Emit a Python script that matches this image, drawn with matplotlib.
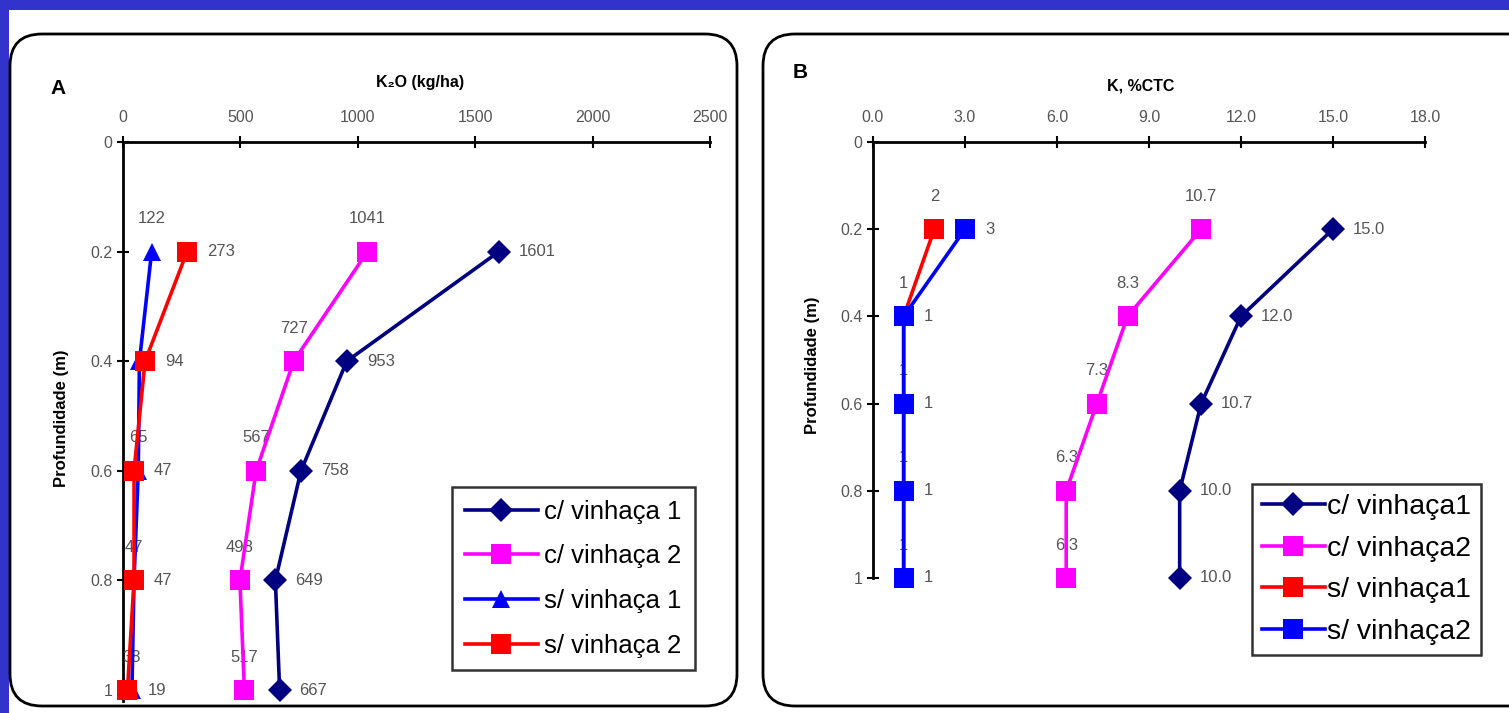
import matplotlib
matplotlib.use("Agg")
import matplotlib.pyplot as plt
from matplotlib.patches import FancyBboxPatch, Rectangle
from matplotlib.transforms import IdentityTransform

plt.rcParams['font.family'] = ['Liberation Sans', 'DejaVu Sans']

# depth (m)
depth = [0.2, 0.4, 0.6, 0.8, 1.0]
depth_ticks = [0, 0.2, 0.4, 0.6, 0.8, 1]
depth_ticklabels = ['0', '0.2', '0.4', '0.6', '0.8', '1']

# panel A: K2O (kg/ha)
a_com1 = [1601, 953, 758, 649, 667]
a_com2 = [1041, 727, 567, 498, 517]
a_sem1 = [122, 70, 65, 47, 38]
a_sem2 = [273, 94, 47, 47, 19]
a_sem1_labels = ['122', '', '65', '47', '38']
a_xticks = [0, 500, 1000, 1500, 2000, 2500]

# panel B: K, %CTC
b_com1 = [15.0, 12.0, 10.7, 10.0, 10.0]
b_com2 = [10.7, 8.3, 7.3, 6.3, 6.3]
b_sem1 = [2, 1, 1, 1, 1]
b_sem2 = [3, 1, 1, 1, 1]
b_xticks = [0, 3, 6, 9, 12, 15, 18]

NAVY = '#000080'
MAG = '#FF00FF'
BLUE = '#0000FF'
RED = '#FF0000'
GRAY = '#555555'

W, H = 1509, 713
fig = plt.figure(figsize=(W / 100, H / 100), dpi=100)
fig.patch.set_facecolor('#3232CC')

# white page and the two rounded panels (pixel coords, origin bottom-left)
fig.patches.append(Rectangle((9, 0), W, H - 10, transform=IdentityTransform(),
                             facecolor='white', edgecolor='none', zorder=0))
for x0, x1 in [(10, 737), (763, 1540)]:
    fig.patches.append(FancyBboxPatch((x0, 7), x1 - x0, 672,
                                      boxstyle='round,pad=0,rounding_size=32',
                                      transform=IdentityTransform(),
                                      facecolor='white', edgecolor='black',
                                      linewidth=2, zorder=1))


def px(x, y):
    return x / W, 1 - y / H


def setup(ax, xticks, xticklabels, xmax, ymax):
    ax.set_xlim(0, xmax)
    ax.set_ylim(ymax, 0)
    ax.xaxis.tick_top()
    ax.set_xticks(xticks)
    ax.set_xticklabels(xticklabels)
    ax.set_yticks(depth_ticks)
    ax.set_yticklabels(depth_ticklabels)
    for s in ['right', 'bottom']:
        ax.spines[s].set_visible(False)
    for s in ['top', 'left']:
        ax.spines[s].set_linewidth(2)
    ax.tick_params(direction='inout', length=9, width=1.5, labelsize=11.5,
                   labelcolor=GRAY)
    ax.tick_params(axis='x', pad=8)
    ax.tick_params(axis='y', pad=3)
    ax.patch.set_alpha(0)


def label(ax, xs, ys, texts, where, color=GRAY, z=3):
    for x, y, t in zip(xs, ys, texts):
        if not t:
            continue
        if where == 'right':
            ax.annotate(t, (x, y), xytext=(20, 0), textcoords='offset pixels',
                        ha='left', va='center', fontsize=12, color=color, zorder=z)
        else:
            ax.annotate(t, (x, y), xytext=(0, 33), textcoords='offset pixels',
                        ha='center', va='center', fontsize=12, color=color, zorder=z)


lkw = dict(linewidth=2.6, markeredgewidth=0, clip_on=False)

# ---------------- panel A ----------------
l, t = px(123, 142)
r, b = px(710, 701)
axA = fig.add_axes([l, b, r - l, t - b], zorder=2)
setup(axA, a_xticks, [str(v) for v in a_xticks], 2500, 1.02)
axA.plot(a_com1, depth, color=NAVY, marker='D', markersize=12, label='c/ vinhaça 1', zorder=4, **lkw)
axA.plot(a_com2, depth, color=MAG, marker='s', markersize=14, label='c/ vinhaça 2', zorder=4, **lkw)
axA.plot(a_sem1, depth, color=BLUE, marker='^', markersize=13, label='s/ vinhaça 1', zorder=4, **lkw)
axA.plot(a_sem2, depth, color=RED, marker='s', markersize=14, label='s/ vinhaça 2', zorder=5, **lkw)
label(axA, a_com1, depth, [str(v) for v in a_com1], 'right')
label(axA, a_com2, depth, [str(v) for v in a_com2], 'above')
label(axA, a_sem1, depth, a_sem1_labels, 'above', z=3)
label(axA, a_sem2, depth, [str(v) for v in a_sem2], 'right')

legA = axA.legend(loc='upper left', bbox_to_anchor=px(452, 487),
                  bbox_transform=fig.transFigure, fontsize=18.5,
                  frameon=True, fancybox=False, edgecolor='black',
                  handlelength=2.85, handletextpad=0.25, labelspacing=0.8,
                  borderpad=0.5, borderaxespad=0)
legA.get_frame().set_linewidth(1.8)

fig.text(*px(420, 82), 'K₂O (kg/ha)', ha='center', va='center', fontsize=11.5, fontweight='bold')
fig.text(*px(58, 88), 'A', ha='center', va='center', fontsize=15, fontweight='bold')
fig.text(*px(62, 418), 'Profundidade (m)', ha='center', va='center', fontsize=12,
         fontweight='bold', rotation=90)

# ---------------- panel B ----------------
l, t = px(873, 142)
r, b = px(1425, 578)
axB = fig.add_axes([l, b, r - l, t - b], zorder=2)
setup(axB, b_xticks, ['%.1f' % v for v in b_xticks], 18, 1.0)
axB.plot(b_com1, depth, color=NAVY, marker='D', markersize=12, label='c/ vinhaça1', zorder=4, **lkw)
axB.plot(b_com2, depth, color=MAG, marker='s', markersize=14, label='c/ vinhaça2', zorder=4, **lkw)
axB.plot(b_sem1, depth, color=RED, marker='s', markersize=14, label='s/ vinhaça1', zorder=4, **lkw)
axB.plot(b_sem2, depth, color=BLUE, marker='s', markersize=14, label='s/ vinhaça2', zorder=5, **lkw)
label(axB, b_com1, depth, ['%.1f' % v for v in b_com1], 'right')
label(axB, b_com2, depth, ['%.1f' % v for v in b_com2], 'above')
label(axB, b_sem1, depth, [str(v) for v in b_sem1], 'above', z=3)
label(axB, b_sem2, depth, [str(v) for v in b_sem2], 'right')

legB = axB.legend(loc='upper left', bbox_to_anchor=px(1252, 484),
                  bbox_transform=fig.transFigure, fontsize=20.5,
                  frameon=True, fancybox=False, edgecolor='black',
                  handlelength=2.2, handletextpad=0.1, labelspacing=0.55,
                  borderpad=0.35, borderaxespad=0)
legB.get_frame().set_linewidth(1.8)

fig.text(*px(1141, 86), 'K, %CTC', ha='center', va='center', fontsize=11.5, fontweight='bold')
fig.text(*px(800, 72), 'B', ha='center', va='center', fontsize=15, fontweight='bold')
fig.text(*px(812, 365), 'Profundidade (m)', ha='center', va='center', fontsize=12,
         fontweight='bold', rotation=90)

fig.savefig('out.png', dpi=100, facecolor=fig.get_facecolor())
